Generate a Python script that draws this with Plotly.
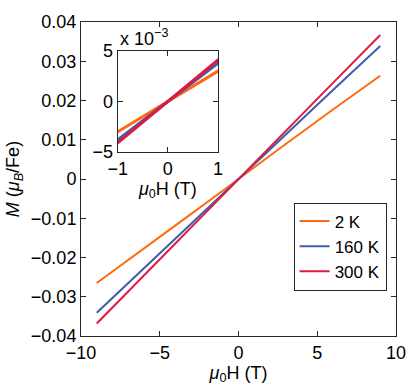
import plotly.graph_objects as go

field = [-9, -6, -3, -1, 0, 1, 3, 6, 9]
m_2K = [-0.0265, -0.0178, -0.0089, -0.0030, 0.0, 0.0030, 0.0089, 0.0177, 0.0263]
m_160K = [-0.0341, -0.0227, -0.0114, -0.0038, 0.0, 0.0038, 0.0114, 0.0227, 0.0339]
m_300K = [-0.0368, -0.0245, -0.0122, -0.0041, 0.0, 0.0041, 0.0122, 0.0245, 0.0367]
names = ["2 K", "160 K", "300 K"]
colors = ["#FF6A10", "#3D5DAD", "#DC1A44"]
series = [m_2K, m_160K, m_300K]

x_ticks = [-10, -5, 0, 5, 10]
y_ticks = [-0.04, -0.03, -0.02, -0.01, 0, 0.01, 0.02, 0.03, 0.04]
y_ticktext = ["\u22120.04", "\u22120.03", "\u22120.02", "\u22120.01", "0", "0.01", "0.02", "0.03", "0.04"]
x_ticktext = ["\u221210", "\u22125", "0", "5", "10"]
inset_x_ticks = [-1, 0, 1]
inset_x_text = ["\u22121", "0", "1"]
inset_y_ticks = [-0.005, 0, 0.005]
inset_y_text = ["\u22125", "0", "5"]

FONT = "Liberation Sans, Arial, Helvetica, sans-serif"
AX = "#262626"
FS = 18

fig = go.Figure()
for n, c, s in zip(names, colors, series):
    fig.add_trace(go.Scatter(x=field, y=s, mode="lines", name=n,
                             line=dict(color=c, width=2), xaxis="x", yaxis="y"))
for n, c, s in zip(names, colors, series):
    fig.add_trace(go.Scatter(x=field, y=s, mode="lines", name=n, showlegend=False,
                             line=dict(color=c, width=3), xaxis="x2", yaxis="y2"))

common = dict(ticks="inside", ticklen=5, tickcolor=AX, showline=True, linecolor=AX,
              linewidth=1, mirror="ticks", showgrid=False, zeroline=False,
              automargin=False, ticklabelstandoff=0,
              tickfont=dict(size=FS, color="black", family=FONT))

fig.update_layout(
    width=415, height=388,
    margin=dict(l=81, r=19, t=22, b=52, autoexpand=False),
    paper_bgcolor="white", plot_bgcolor="white",
    font=dict(family=FONT, color="black", size=FS),
    xaxis=dict(range=[-10, 10], tickvals=x_ticks, ticktext=x_ticktext,
               title=dict(text="<i>\u03bc</i><sub>0</sub>H (T)", standoff=4,
                          font=dict(size=FS)), **common),
    yaxis=dict(range=[-0.04, 0.04], tickvals=y_ticks, ticktext=y_ticktext,
               title=dict(text="<i>M</i> (<i>\u03bc<sub>B</sub></i>/Fe)", standoff=6,
                          font=dict(size=FS)), **common),
    xaxis2=dict(domain=[0.1165, 0.435], anchor="y2", range=[-1, 1],
                tickvals=inset_x_ticks, ticktext=inset_x_text,
                title=dict(text="<i>\u03bc</i><sub>0</sub>H (T)", standoff=0,
                           font=dict(size=FS)), **common),
    yaxis2=dict(domain=[0.586, 0.908], anchor="x2", range=[-0.005, 0.005],
                tickvals=inset_y_ticks, ticktext=inset_y_text, **common),
    legend=dict(x=0.675, y=0.425, xanchor="left", yanchor="top",
                bgcolor="white", bordercolor=AX, borderwidth=1,
                font=dict(size=17, family=FONT), tracegroupgap=0,
                itemwidth=30),
    annotations=[dict(text="x 10<sup>\u22123</sup>", xref="paper", yref="paper",
                      x=0.1165, y=0.908, xanchor="left", yanchor="bottom",
                      showarrow=False, font=dict(size=FS, family=FONT))],
)

fig.write_html("out.html", config={"displayModeBar": False},
               post_script="document.body.style.margin='0';")
